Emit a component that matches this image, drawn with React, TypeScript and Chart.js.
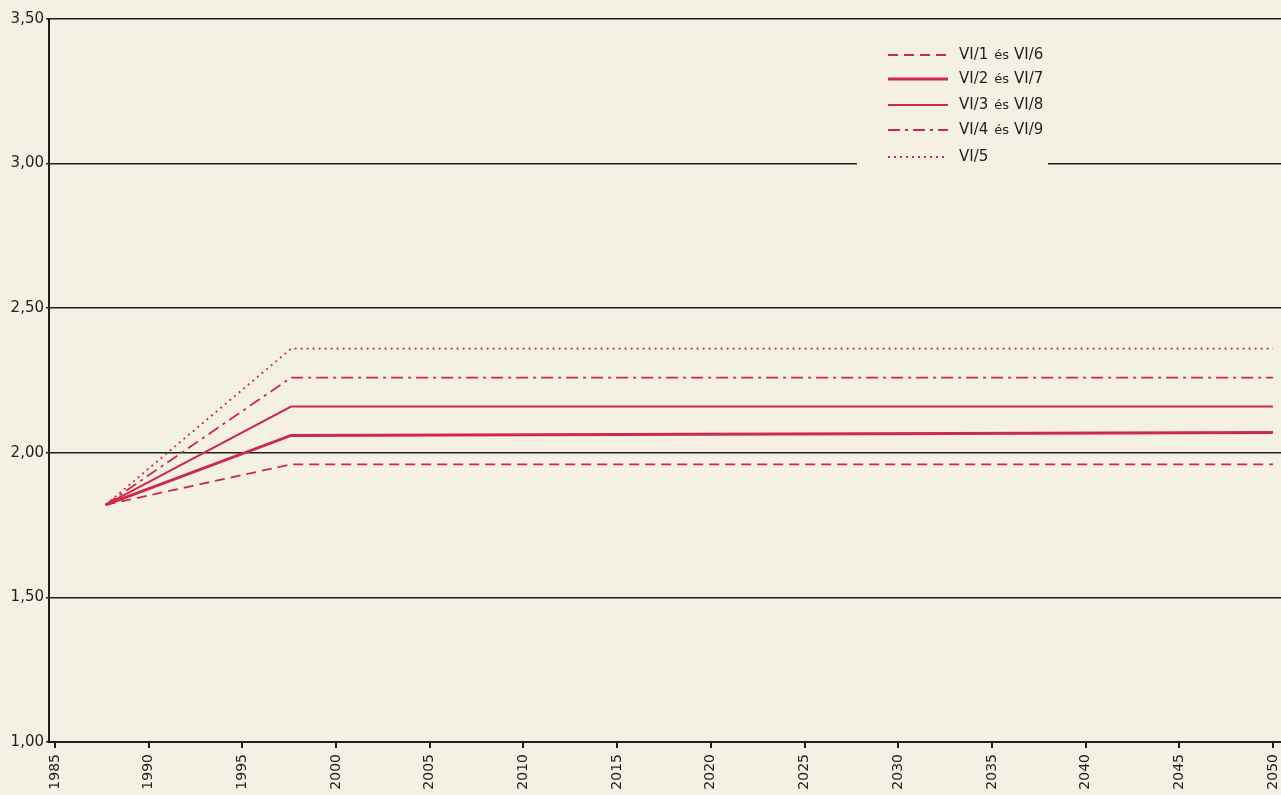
import { useEffect, useRef } from 'react';
import { Chart, registerables } from 'chart.js';
Chart.register(...registerables);

const years = [1987.7, 1997.6, 2050];
const vi1 = [1.82, 1.96, 1.96];
const vi2 = [1.82, 2.06, 2.07];
const vi3 = [1.82, 2.16, 2.16];
const vi4 = [1.82, 2.26, 2.26];
const vi5 = [1.82, 2.36, 2.36];
const xTicks = [1985, 1990, 1995, 2000, 2005, 2010, 2015, 2020, 2025, 2030, 2035, 2040, 2045, 2050];
const legendLabels = [
  ['VI/1', 'VI/6'],
  ['VI/2', 'VI/7'],
  ['VI/3', 'VI/8'],
  ['VI/4', 'VI/9'],
  ['VI/5', ''],
];

const BG = '#f5f0e4';
const RED = '#cc2a48';
const INK = '#1f1f1f';
const FONT = '"DejaVu Sans", "Liberation Sans", Arial, sans-serif';

const styles = [
  { w: 1.8, dash: [10, 6] },
  { w: 3, dash: [] },
  { w: 2, dash: [] },
  { w: 1.8, dash: [12, 5, 3, 5] },
  { w: 1.8, dash: [2, 4] },
];

const legendPlugin = {
  id: 'customLegend',
  afterDraw(chart: any) {
    const ctx = chart.ctx;
    ctx.save();
    ctx.fillStyle = BG;
    ctx.fillRect(857, 36, 191, 134);
    const rows = [55, 79, 105, 130, 157];
    rows.forEach((y, i) => {
      const s = styles[i];
      ctx.strokeStyle = RED;
      ctx.lineWidth = s.w;
      ctx.setLineDash(s.dash);
      ctx.beginPath();
      ctx.moveTo(888, y);
      ctx.lineTo(948, y);
      ctx.stroke();
      ctx.setLineDash([]);
      ctx.fillStyle = INK;
      ctx.textBaseline = 'middle';
      ctx.textAlign = 'left';
      let x = 959;
      const [a, b] = legendLabels[i];
      ctx.font = `15px ${FONT}`;
      ctx.fillText(a, x, y);
      x += ctx.measureText(a).width;
      if (b) {
        ctx.font = `13px ${FONT}`;
        x += 6;
        ctx.fillText('és', x, y + 1);
        x += ctx.measureText('és').width + 5;
        ctx.font = `15px ${FONT}`;
        ctx.fillText(b, x, y);
      }
    });
    ctx.restore();
  },
};

const bgPlugin = {
  id: 'bg',
  beforeDraw(chart: any) {
    const ctx = chart.ctx;
    ctx.save();
    ctx.fillStyle = BG;
    ctx.fillRect(0, 0, chart.width, chart.height);
    ctx.restore();
  },
};

export default function App() {
  const ref = useRef<HTMLCanvasElement>(null);
  useEffect(() => {
    if (!ref.current) return;
    const series = [vi1, vi2, vi3, vi4, vi5];
    const chart = new Chart(ref.current, {
      type: 'line',
      data: {
        datasets: series.map((vals, i) => ({
          label: legendLabels[i].join(' és '),
          data: years.map((x, j) => ({ x, y: vals[j] })),
          borderColor: RED,
          borderWidth: styles[i].w,
          borderDash: styles[i].dash,
          pointRadius: 0,
          tension: 0,
          fill: false,
        })),
      },
      options: {
        animation: false,
        responsive: false,
        layout: { padding: { top: 19, right: 0, left: 0, bottom: 0 } },
        plugins: { legend: { display: false }, tooltip: { enabled: false } },
        scales: {
          x: {
            type: 'linear',
            min: 1984.68,
            max: 2050.43,
            afterBuildTicks: (axis: any) => {
              axis.ticks = xTicks.map((v) => ({ value: v }));
            },
            afterFit: (scale: any) => {
              scale.height = 53;
              scale.paddingLeft = 0;
              scale.paddingRight = 0;
            },
            border: { display: true, color: INK, width: 2 },
            grid: { display: true, drawOnChartArea: false, drawTicks: true, tickLength: 6, color: INK, lineWidth: 2 },
            ticks: {
              minRotation: 90,
              maxRotation: 90,
              padding: 6,
              color: INK,
              font: { family: FONT, size: 14 },
              callback: (v: any) => String(v),
            },
          },
          y: {
            min: 1,
            max: 3.5,
            afterFit: (scale: any) => {
              scale.width = 49;
            },
            border: { display: true, color: INK, width: 2 },
            grid: { color: INK, lineWidth: 1.5, drawTicks: true, tickLength: 3 },
            ticks: {
              stepSize: 0.5,
              padding: 2,
              color: INK,
              font: { family: FONT, size: 15 },
              callback: (v: any) => Number(v).toFixed(2).replace('.', ','),
            },
          },
        },
      },
      plugins: [bgPlugin, legendPlugin],
    });
    return () => chart.destroy();
  }, []);
  return (
    <div style={{ position: 'absolute', left: 0, top: 0, width: 1281, height: 795, background: BG }}>
      <canvas ref={ref} width={1281} height={795} />
    </div>
  );
}
